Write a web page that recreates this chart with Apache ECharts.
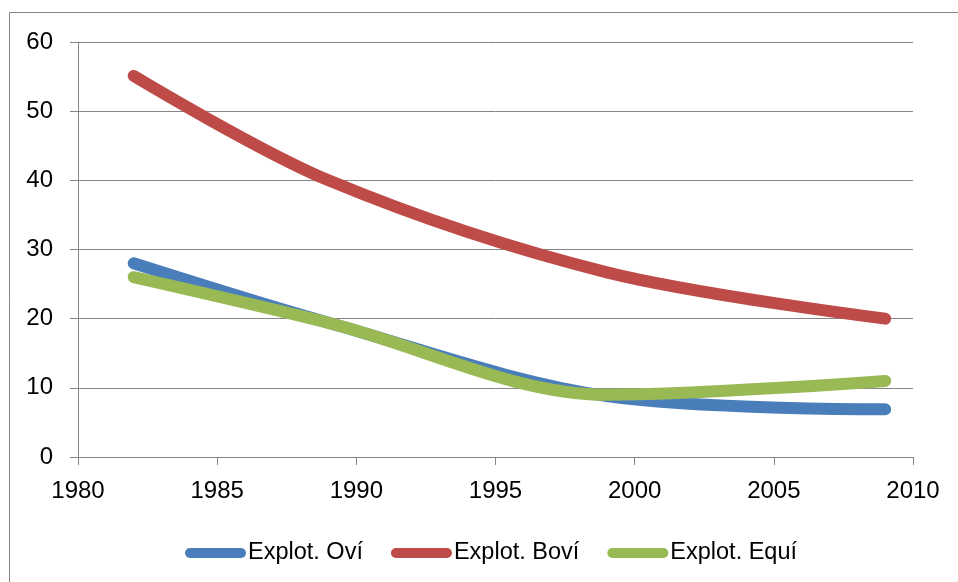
<!DOCTYPE html>
<html>
<head>
<meta charset="utf-8">
<script src="https://cdn.jsdelivr.net/npm/echarts@6/dist/echarts.min.js"></script>
<style>
html,body{margin:0;padding:0;background:#fff;}
#c{width:958px;height:582px;}
</style>
</head>
<body>
<div id="c"></div>
<script>
var years = [1982, 1989, 1999, 2009];
var seriesNames = ['Explot. Oví', 'Explot. Boví', 'Explot. Equí'];
var oviValues = [28, 19.4, 8.8, 6.9];
var boviValues = [55.1, 40, 26.7, 20];
var equiValues = [26, 19.4, 9, 11];
var colors = ['#4A7EBB', '#BE4B48', '#98B954'];

function pairs(xs, ys) { return xs.map(function (x, i) { return [x, ys[i]]; }); }

var font = 'Liberation Sans';
var capsule = 'path://M5,0 L56,0 A5,5 0 0 1 56,10 L5,10 A5,5 0 0 1 5,0 Z';

function mkSeries(name, vals, color) {
  return {
    name: name,
    type: 'line',
    data: pairs(years, vals),
    smooth: 0.33,
    showSymbol: false,
    symbol: 'none',
    lineStyle: { width: 12, color: color, cap: 'round', join: 'round' },
    itemStyle: { color: color },
    emphasis: { disabled: true },
    animation: false
  };
}

var chart = echarts.init(document.getElementById('c'));
chart.setOption({
  animation: false,
  grid: { left: 78, right: 45, top: 42, bottom: 125, containLabel: false },
  graphic: [{
    type: 'rect',
    shape: { x: 9.5, y: 12.5, width: 1200, height: 1200 },
    style: { fill: 'none', stroke: '#868686', lineWidth: 1 },
    silent: true
  }],
  legend: {
    left: 180,
    top: 535,
    itemWidth: 61,
    itemHeight: 10,
    itemGap: 28,
    icon: capsule,
    data: seriesNames,
    textStyle: { fontFamily: font, fontSize: 23.5, color: '#000', lineHeight: 26, padding: [0, 0, 0, -3] }
  },
  xAxis: {
    type: 'value',
    min: 1980,
    max: 2010,
    interval: 5,
    axisLine: { show: true, lineStyle: { color: '#868686', width: 1 } },
    axisTick: { show: true, length: 8, lineStyle: { color: '#868686' } },
    splitLine: { show: false },
    axisLabel: { fontFamily: font, fontSize: 24, color: '#000', margin: 22,
      formatter: function (v) { return String(v); } }
  },
  yAxis: {
    type: 'value',
    min: 0,
    max: 60,
    interval: 10,
    axisLine: { show: true, lineStyle: { color: '#868686', width: 1 } },
    axisTick: { show: true, length: 8, lineStyle: { color: '#868686' } },
    splitLine: { show: true, lineStyle: { color: '#868686', width: 1 } },
    axisLabel: { fontFamily: font, fontSize: 24, color: '#000', margin: 25 }
  },
  series: [
    mkSeries(seriesNames[0], oviValues, colors[0]),
    mkSeries(seriesNames[1], boviValues, colors[1]),
    mkSeries(seriesNames[2], equiValues, colors[2])
  ]
});
</script>
</body>
</html>
